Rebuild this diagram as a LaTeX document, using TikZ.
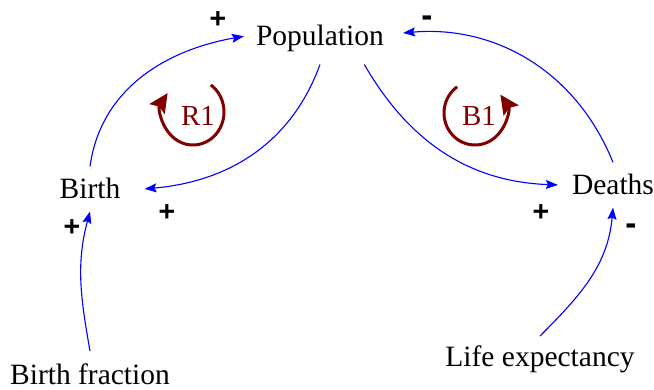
\documentclass[tikz,border=0pt]{standalone}
\usepackage{fontspec}
\setmainfont{Liberation Serif}
\setsansfont{TeX Gyre Heros}
\usetikzlibrary{arrows.meta,calc}
\definecolor{loopred}{RGB}{128,0,0}
\definecolor{linkblue}{RGB}{0,0,255}
\tikzset{
  var/.style={font=\fontsize{29.5}{34}\selectfont, inner xsep=12pt, inner ysep=12pt, anchor=base},
  link/.style={draw=linkblue, line width=1.1pt, -{Stealth[length=12pt,width=9pt,inset=2pt]}},
  loop/.style={draw=loopred, line width=3pt, -{Stealth[length=19pt,width=18pt,inset=3pt]}},
  looplabel/.style={font=\fontsize{29}{34}\selectfont, text=loopred},
  sign/.style={font=\fontsize{31}{36}\selectfont\sffamily\bfseries, anchor=base, inner sep=0pt}
}
\begin{document}
\begin{tikzpicture}[x=1pt,y=1pt]
\useasboundingbox (0,0) rectangle (654,389);
% variables
\node[var] (pop) at (320,343) {Population};
\node[var, inner xsep=24pt] (birth) at (90,190) {Birth};
\node[var, inner xsep=14pt] (deaths) at (613,194) {Deaths};
\node[var] (bf) at (90,5) {Birth fraction};
\node[var, inner ysep=9pt] (le) at (540,23) {Life expectancy};
% links
\draw[link] (birth.north) to[out=82,in=190] (pop.178);
\draw[link] (pop.south) to[out=250,in=5] (birth.east);
\draw[link] (pop.-30) to[out=-60,in=178] (deaths.west);
\draw[link, shorten >=7pt] (deaths.north) to[out=112,in=5] (pop.4);
\draw[link] (bf.north) to[out=100,in=255] (birth.south);
\draw[link] (le.north) to[out=45,in=265] (deaths.south);
% loops
\coordinate (r1s) at ($(193,277)+(55:31 and 33)$);
\draw[loop] (r1s) arc[start angle=55, end angle=-215, x radius=31, y radius=33];
\node[looplabel] (r1) at (198,273) {R1};
\coordinate (b1s) at ($(475,276)+(125:31 and 32)$);
\draw[loop] (b1s) arc[start angle=125, end angle=395, x radius=31, y radius=32];
\node[looplabel] (b1) at (479,273) {B1};
% signs
\node[sign] (s1) at (218,362) {+};
\node[sign] (s2) at (427,362) {-};
\node[sign] (s3) at (167,170) {+};
\node[sign] (s4) at (72,154) {+};
\node[sign] (s5) at (541,170) {+};
\node[sign] (s6) at (631,154) {-};
\end{tikzpicture}
\end{document}
